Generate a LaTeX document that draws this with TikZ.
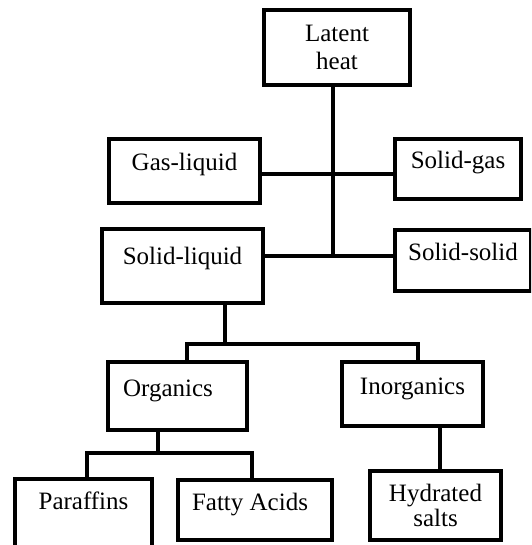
\documentclass[tikz,border=0pt]{standalone}
\usepackage{fontspec}
\setmainfont{Liberation Serif}
\usepackage{tikz}

\begin{document}
\begin{tikzpicture}[x=1pt, y=-1pt,
        box/.style = {draw, line width=3.6pt, inner sep=0pt,
            font=\fontsize{25}{28}\selectfont},
        oneline/.style = {text height=17pt, text depth=17pt},
        link/.style = {line width=3.6pt}]
            \useasboundingbox (0, 0) rectangle (531, 545);
            \clip (0, 0) rectangle (531, 545);

            % top level
            \node[box, align=center, minimum width=146.4pt, minimum height=75.4pt]
                (heat) at (337, 47.5) {Latent\\heat};
            \node[box, oneline, minimum width=151.4pt, minimum height=64.4pt]
                (gas) at (184.5, 171) {Gas-liquid};
            \node[box, oneline, minimum width=126.4pt, minimum height=60.4pt]
                (sgas) at (458, 169) {Solid-gas};
            \node[box, oneline, text depth=21pt, minimum width=161.4pt, minimum height=74.4pt]
                (sliq) at (182.5, 266) {Solid-liquid};
            \node[box, oneline, minimum width=136.4pt, minimum height=61.4pt]
                (ssol) at (463, 260.5) {Solid-solid};

            % solid-liquid
            \node[box, oneline, minimum width=139.4pt, minimum height=68.4pt]
                (org) at (177.5, 396) {Organics\hspace*{19pt}};
            \node[box, oneline, minimum width=141.4pt, minimum height=64.4pt]
                (inorg) at (412.5, 394) {Inorganics};

            % organics / inorganics
            \node[box, oneline, text depth=36pt, minimum width=137.4pt, minimum height=79.4pt]
                (par) at (83.5, 518.5) {Paraffins};
            \node[box, oneline, minimum width=154.4pt, minimum height=60.4pt]
                (fatty) at (255, 510) {Fatty Acids\hspace*{10pt}};
            \node[box, align=center, minimum width=131.4pt, minimum height=69.4pt]
                (hyd) at (435.5, 505.5) {Hydrated\\[-3pt]salts};

            \coordinate (mid) at (333, 174);
            \coordinate (trunk) at (333, 256);
            \coordinate (split1) at (225, 344);
            \coordinate (split2) at (158, 453);

            \draw[link] (heat.south -| trunk) -- (trunk);
            \draw[link] (gas.east |- mid) -- (sgas.west |- mid);
            \draw[link] (sliq.east |- trunk) -- (ssol.west |- trunk);
            \draw[link] (sliq.south -| split1) -- (split1);
            \draw[link] ([xshift=9.5pt]org.north) |- (split1) -| ([xshift=5.5pt]inorg.north);
            \draw[link] (org.south -| split2) -- (split2);
            \draw[link] ([xshift=3.5pt]par.north) |- (split2) -| ([xshift=-3pt]fatty.north);
            %\draw[link] (inorg) -- (hyd);
            \draw[link] ([xshift=4.5pt]hyd.north) -- ([xshift=4.5pt]hyd.north |- inorg.south);
        \end{tikzpicture}
\end{document}
